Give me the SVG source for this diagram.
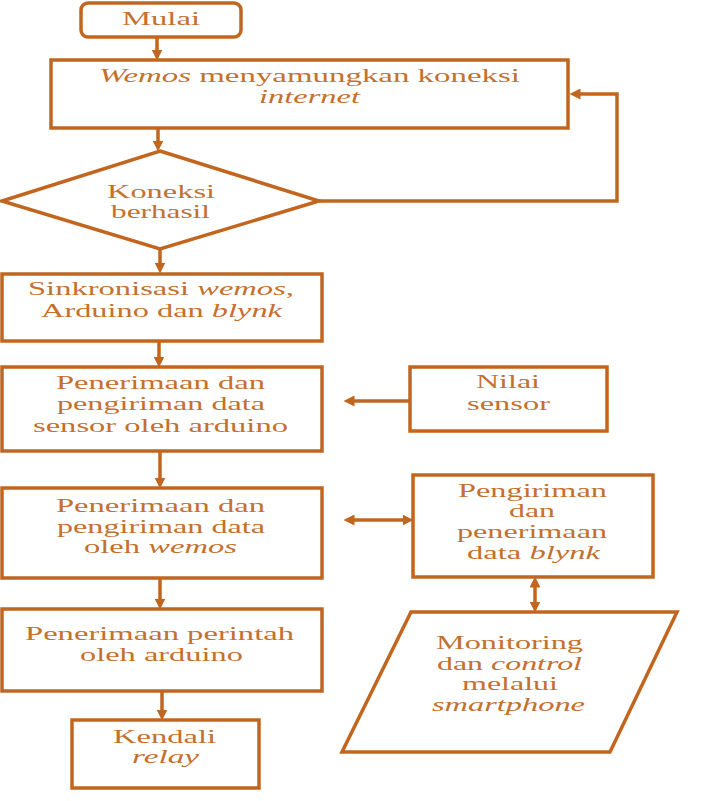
<svg xmlns="http://www.w3.org/2000/svg" width="726" height="801" viewBox="0 0 726 801">
<style>
.s{fill:#fff;stroke:#C2651E;stroke-width:3.5}
.c{fill:none;stroke:#C2651E;stroke-width:3.5}
text{font-family:"Liberation Serif","Times New Roman",serif;font-size:19px;fill:#C4702E}
.i{font-style:italic}
</style>
<defs>
<marker id="ah" viewBox="0 0 10 10" refX="5" refY="5" markerWidth="11" markerHeight="11" markerUnits="userSpaceOnUse" orient="auto-start-reverse">
<path d="M0,0 L10,5 L0,10 z" fill="#C2651E"/>
</marker>
</defs>
<rect width="726" height="801" fill="#fff"/>
<g id="connectors">
<line class="c" x1="157" y1="37" x2="157" y2="55" marker-end="url(#ah)"/>
<line class="c" x1="158" y1="128" x2="158" y2="146" marker-end="url(#ah)"/>
<polyline class="c" points="319,201 617,201 617,94 575,94" marker-end="url(#ah)"/>
<line class="c" x1="160" y1="249" x2="160" y2="268" marker-end="url(#ah)"/>
<line class="c" x1="159" y1="341" x2="159" y2="362" marker-end="url(#ah)"/>
<line class="c" x1="410" y1="401" x2="349" y2="401" marker-end="url(#ah)"/>
<line class="c" x1="160" y1="451" x2="160" y2="483" marker-end="url(#ah)"/>
<line class="c" x1="349" y1="520" x2="408" y2="520" marker-start="url(#ah)" marker-end="url(#ah)"/>
<line class="c" x1="160" y1="578" x2="160" y2="604" marker-end="url(#ah)"/>
<line class="c" x1="535" y1="582" x2="535" y2="607" marker-start="url(#ah)" marker-end="url(#ah)"/>
<line class="c" x1="162" y1="691" x2="162" y2="715" marker-end="url(#ah)"/>
</g>
<g id="mulai">
<rect class="s" x="81" y="3" width="160" height="34" rx="7"/>
<text x="122" y="25" textLength="78" lengthAdjust="spacingAndGlyphs">Mulai</text>
</g>
<g id="koneksi-internet">
<rect class="s" x="51" y="60" width="517" height="68"/>
<text x="99" y="82" textLength="421" lengthAdjust="spacingAndGlyphs"><tspan class="i">Wemos</tspan> menyamungkan koneksi</text>
<text x="259" y="103" textLength="101" lengthAdjust="spacingAndGlyphs" class="i">internet</text>
</g>
<g id="koneksi-berhasil">
<polygon class="s" points="160,151 319,201 160,249 2,201"/>
<text x="107" y="198" textLength="108" lengthAdjust="spacingAndGlyphs">Koneksi</text>
<text x="111" y="218" textLength="99" lengthAdjust="spacingAndGlyphs">berhasil</text>
</g>
<g id="sinkronisasi">
<rect class="s" x="2" y="274" width="320" height="67"/>
<text x="28" y="295" textLength="266" lengthAdjust="spacingAndGlyphs">Sinkronisasi <tspan class="i">wemos</tspan>,</text>
<text x="41" y="317" textLength="241" lengthAdjust="spacingAndGlyphs">Arduino dan <tspan class="i">blynk</tspan></text>
</g>
<g id="penerimaan-arduino">
<rect class="s" x="2" y="367" width="320" height="84"/>
<text x="56" y="389" textLength="209" lengthAdjust="spacingAndGlyphs">Penerimaan dan</text>
<text x="57" y="410" textLength="208" lengthAdjust="spacingAndGlyphs">pengiriman data</text>
<text x="33" y="432" textLength="255" lengthAdjust="spacingAndGlyphs">sensor oleh arduino</text>
</g>
<g id="nilai-sensor">
<rect class="s" x="410" y="367" width="197" height="64"/>
<text x="476" y="388" textLength="64" lengthAdjust="spacingAndGlyphs">Nilai</text>
<text x="467" y="410" textLength="83" lengthAdjust="spacingAndGlyphs">sensor</text>
</g>
<g id="penerimaan-wemos">
<rect class="s" x="2" y="488" width="320" height="90"/>
<text x="56" y="512" textLength="209" lengthAdjust="spacingAndGlyphs">Penerimaan dan</text>
<text x="57" y="533" textLength="208" lengthAdjust="spacingAndGlyphs">pengiriman data</text>
<text x="84" y="553" textLength="153" lengthAdjust="spacingAndGlyphs">oleh <tspan class="i">wemos</tspan></text>
</g>
<g id="pengiriman-blynk">
<rect class="s" x="413" y="475" width="240" height="102"/>
<text x="458" y="497" textLength="149" lengthAdjust="spacingAndGlyphs">Pengiriman</text>
<text x="509" y="517" textLength="46" lengthAdjust="spacingAndGlyphs">dan</text>
<text x="457" y="538" textLength="150" lengthAdjust="spacingAndGlyphs">penerimaan</text>
<text x="467" y="559" textLength="133" lengthAdjust="spacingAndGlyphs">data <tspan class="i">blynk</tspan></text>
</g>
<g id="monitoring">
<polygon class="s" points="411,612 677,612 610,752 342,752"/>
<text x="436" y="649" textLength="147" lengthAdjust="spacingAndGlyphs">Monitoring</text>
<text x="437" y="670" textLength="145" lengthAdjust="spacingAndGlyphs">dan <tspan class="i">control</tspan></text>
<text x="462" y="690" textLength="96" lengthAdjust="spacingAndGlyphs">melalui</text>
<text x="432" y="711" textLength="153" lengthAdjust="spacingAndGlyphs" class="i">smartphone</text>
</g>
<g id="penerimaan-perintah">
<rect class="s" x="2" y="609" width="320" height="82"/>
<text x="25" y="640" textLength="269" lengthAdjust="spacingAndGlyphs">Penerimaan perintah</text>
<text x="80" y="661" textLength="163" lengthAdjust="spacingAndGlyphs">oleh arduino</text>
</g>
<g id="kendali-relay">
<rect class="s" x="72" y="720" width="187" height="68"/>
<text x="113" y="743" textLength="103" lengthAdjust="spacingAndGlyphs">Kendali</text>
<text x="132" y="763" textLength="67" lengthAdjust="spacingAndGlyphs" class="i">relay</text>
</g>
</svg>
